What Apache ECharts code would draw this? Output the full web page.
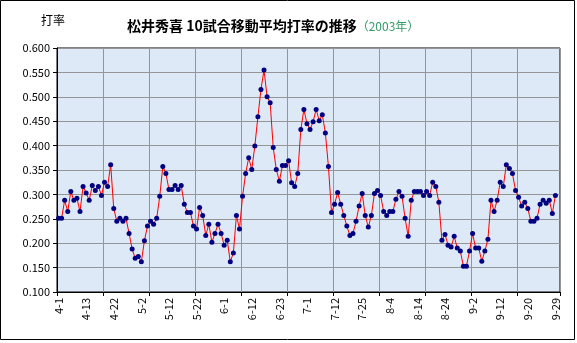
<!DOCTYPE html>
<html>
<head>
<meta charset="utf-8">
<script src="https://cdn.jsdelivr.net/npm/echarts@6/dist/echarts.min.js"></script>
<style>html,body{margin:0;padding:0;background:#fff}#c{width:577px;height:343px}</style>
</head>
<body>
<div id="c"></div>
<script>
// tick labels shown every 9 games (game dates, Japan time)
const tickLabels = ['4-1','4-13','4-22','5-2','5-12','5-22','6-1','6-12','6-23','7-1','7-12','7-25','8-4','8-14','8-24','9-2','9-12','9-20','9-29'];
// 10-game moving batting average per game
const avgValues = [
0.251,0.251,0.288,0.265,0.306,0.288,0.292,0.265,0.316,0.303,
0.288,0.318,0.308,0.316,0.298,0.325,0.316,0.361,0.271,0.245,
0.251,0.245,0.251,0.220,0.188,0.169,0.173,0.162,0.205,0.235,
0.245,0.239,0.251,0.296,0.357,0.343,0.310,0.310,0.318,0.310,
0.318,0.280,0.263,0.263,0.235,0.229,0.273,0.257,0.216,0.239,
0.202,0.220,0.239,0.220,0.196,0.206,0.162,0.180,0.257,0.229,
0.296,0.343,0.375,0.351,0.399,0.459,0.515,0.555,0.500,0.488,
0.396,0.351,0.327,0.359,0.359,0.369,0.324,0.316,0.343,0.433,
0.474,0.445,0.433,0.449,0.474,0.451,0.463,0.426,0.357,0.263,
0.280,0.304,0.280,0.257,0.235,0.216,0.220,0.245,0.276,0.302,
0.257,0.233,0.257,0.302,0.308,0.298,0.265,0.257,0.265,0.265,
0.290,0.306,0.296,0.251,0.214,0.288,0.306,0.306,0.306,0.298,
0.306,0.298,0.325,0.316,0.284,0.206,0.218,0.196,0.192,0.214,
0.190,0.184,0.153,0.153,0.184,0.220,0.190,0.190,0.163,0.184,
0.208,0.288,0.265,0.288,0.325,0.316,0.361,0.353,0.343,0.308,
0.294,0.276,0.284,0.271,0.245,0.245,0.251,0.280,0.288,0.282,
0.288,0.261,0.298
];
const categoryCount = 164; // category slots on the axis (one trailing empty slot)
const yMin = 0.1, yMax = 0.6, yStep = 0.05;

const categories = [];
for (let i = 0; i < categoryCount; i++) categories.push(String(i + 1));

const chart = echarts.init(document.getElementById('c'), null, {renderer: 'canvas'});
const jp = '"Noto Sans CJK JP", "Noto Sans", sans-serif';
chart.setOption({
  animation: false,
  backgroundColor: '#fff',
  title: {
    left: 122, top: 14,
    text: '{a|松井秀喜 10試合移動平均打率の推移}{b|（2003年）}',
    textStyle: {
      rich: {
        a: {fontFamily: jp, fontSize: 14, fontWeight: 'bold', color: '#000'},
        b: {fontFamily: jp, fontSize: 12, fontWeight: 'normal', color: '#339966'}
      }
    }
  },
  graphic: [
    {type: 'rect', shape: {x: 0.5, y: 0.5, width: 574, height: 339}, style: {fill: 'none', stroke: '#000', lineWidth: 1}, silent: true},
    {type: 'text', left: 41, top: 14, style: {text: '打率', font: '12px ' + jp, fill: '#000'}}
  ],
  grid: {left: 57, top: 48, right: 17, bottom: 51, show: true, backgroundColor: '#dde9f7', borderColor: '#000', borderWidth: 1},
  xAxis: {
    type: 'category',
    data: categories,
    boundaryGap: true,
    axisLine: {show: true, lineStyle: {color: '#000', width: 1}},
    axisTick: {show: true, interval: 14, length: 4, lineStyle: {color: '#000'}},
    splitLine: {show: true, interval: 14, lineStyle: {color: '#959595', width: 1}},
    axisLabel: {
      interval: 8, rotate: 90, margin: 6,
      fontFamily: jp, fontSize: 11, color: '#000',
      formatter: function (v, idx) { const k = idx / 9; return Number.isInteger(k) && tickLabels[k] ? tickLabels[k] : ''; }
    }
  },
  yAxis: {
    type: 'value', min: yMin, max: yMax, interval: yStep,
    axisLine: {show: true, lineStyle: {color: '#000'}},
    axisTick: {show: true, length: 4, lineStyle: {color: '#000'}},
    splitLine: {show: true, lineStyle: {color: '#959595', width: 1}},
    axisLabel: {margin: 7, fontFamily: jp, fontSize: 11, color: '#000', formatter: v => v.toFixed(3)}
  },
  series: [{
    type: 'line',
    data: avgValues,
    symbol: 'circle', symbolSize: 5,
    showSymbol: true, showAllSymbol: true,
    itemStyle: {color: '#000080'},
    lineStyle: {color: '#ff0000', width: 1},
    z: 3
  }]
});
</script>
</body>
</html>
